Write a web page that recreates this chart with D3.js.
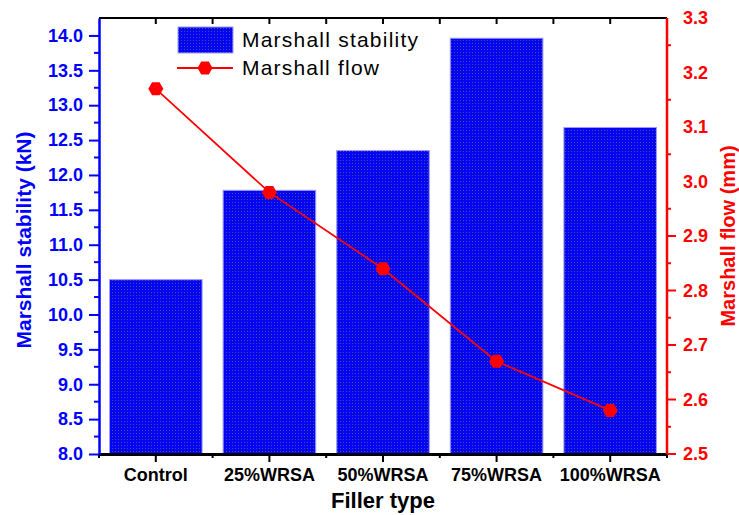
<!DOCTYPE html>
<html>
<head>
<meta charset="utf-8">
<script src="https://cdn.jsdelivr.net/npm/d3@7"></script>
<style>
  body { margin: 0; background: #fff; }
  text { font-family: Arial, "Liberation Sans", sans-serif; }
</style>
</head>
<body>
<div id="chart"></div>
<script>
const categories = ["Control", "25%WRSA", "50%WRSA", "75%WRSA", "100%WRSA"];
const stability = [10.50, 11.78, 12.35, 13.96, 12.68];
const flow = [3.17, 2.98, 2.84, 2.67, 2.58];
const leftTicks = [8.0, 8.5, 9.0, 9.5, 10.0, 10.5, 11.0, 11.5, 12.0, 12.5, 13.0, 13.5, 14.0];
const rightTicks = [2.5, 2.6, 2.7, 2.8, 2.9, 3.0, 3.1, 3.2, 3.3];
const rightMajorShown = [2.5, 2.6, 2.7, 2.8, 2.9];

const W = 739, H = 515;
const m = { left: 99, right: 667, top: 18, bottom: 454 };
const BLUE = "#0000ff", RED = "#ff0000";

const svg = d3.select("#chart").append("svg")
    .attr("width", W)
    .attr("height", H);

// dotted fill for the bars
const defs = svg.append("defs");
const pat = defs.append("pattern")
    .attr("id", "dots")
    .attr("width", 3).attr("height", 3)
    .attr("patternUnits", "userSpaceOnUse");
pat.append("rect").attr("width", 3).attr("height", 3).attr("fill", "#0505f5");
pat.append("rect").attr("x", 1).attr("y", 1).attr("width", 1).attr("height", 1).attr("fill", "#4a4a9a");

const x = d3.scaleBand()
    .domain(categories)
    .range([m.left, m.right])
    .paddingInner(0)
    .paddingOuter(0);

const yL = d3.scaleLinear().domain([8, 14.25]).range([m.bottom, m.top]);
const yR = d3.scaleLinear().domain([2.5, 3.3]).range([m.bottom, m.top]);

const barW = x.bandwidth() * 0.815;

// bars
svg.selectAll(".bar")
    .data(stability)
    .enter()
    .append("rect")
    .attr("class", "bar")
    .attr("x", (d, i) => x(categories[i]) + (x.bandwidth() - barW) / 2)
    .attr("y", d => yL(d))
    .attr("width", barW)
    .attr("height", d => yL(8) - yL(d))
    .attr("fill", "url(#dots)")
    .attr("stroke", "#9a9aff")
    .attr("stroke-width", 1);

// top frame
svg.append("line")
    .attr("x1", m.left).attr("x2", m.right)
    .attr("y1", m.top).attr("y2", m.top)
    .attr("stroke", "#000").attr("stroke-width", 2);

const boundaries = categories.map(c => x(c)).concat([m.right]);
const centers = categories.map(c => x(c) + x.bandwidth() / 2);

svg.selectAll(".ttick")
    .data(centers.concat(boundaries.slice(1, -1)))
    .enter().append("line")
    .attr("x1", d => d).attr("x2", d => d)
    .attr("y1", m.top).attr("y2", m.top + 6)
    .attr("stroke", "#000").attr("stroke-width", 2);

// bottom axis
const xAxis = svg.append("g")
    .attr("transform", `translate(0,${m.bottom})`)
    .call(d3.axisBottom(x).tickSize(8).tickPadding(6).tickSizeOuter(0));
xAxis.select(".domain").attr("stroke", "#000").attr("stroke-width", 3);
xAxis.selectAll(".tick line").attr("stroke-width", 2);
xAxis.selectAll(".tick text")
    .attr("font-size", 18).attr("font-weight", "bold").attr("fill", "#000")
    .attr("font-family", "Arial, 'Liberation Sans', sans-serif");

svg.selectAll(".bminor")
    .data(boundaries)
    .enter().append("line")
    .attr("x1", d => d).attr("x2", d => d)
    .attr("y1", m.bottom).attr("y2", m.bottom + 4)
    .attr("stroke", "#000").attr("stroke-width", 2);

// left axis
const leftAxis = svg.append("g")
    .attr("transform", `translate(${m.left},0)`)
    .call(d3.axisLeft(yL).tickValues(leftTicks).tickFormat(d3.format(".1f"))
        .tickSize(10).tickPadding(6).tickSizeOuter(0));
leftAxis.select(".domain").attr("stroke", BLUE).attr("stroke-width", 2.5);
leftAxis.selectAll(".tick line").attr("stroke", BLUE).attr("stroke-width", 2);
leftAxis.selectAll(".tick text")
    .attr("font-size", 18).attr("font-weight", "bold").attr("fill", BLUE)
    .attr("font-family", "Arial, 'Liberation Sans', sans-serif");

svg.selectAll(".lminor")
    .data(leftTicks.slice(0, -1).map(d => d + 0.25))
    .enter().append("line")
    .attr("x1", m.left - 5).attr("x2", m.left)
    .attr("y1", d => yL(d)).attr("y2", d => yL(d))
    .attr("stroke", BLUE).attr("stroke-width", 2);

// right axis
svg.append("line")
    .attr("x1", m.right).attr("x2", m.right)
    .attr("y1", m.top).attr("y2", m.bottom)
    .attr("stroke", RED).attr("stroke-width", 2.5);

svg.selectAll(".rmajor")
    .data(rightMajorShown)
    .enter().append("line")
    .attr("x1", m.right).attr("x2", m.right + 9)
    .attr("y1", d => yR(d)).attr("y2", d => yR(d))
    .attr("stroke", RED).attr("stroke-width", 2);

svg.selectAll(".rminor")
    .data(rightTicks.slice(0, -1).map(d => d + 0.05))
    .enter().append("line")
    .attr("x1", m.right).attr("x2", m.right + 4)
    .attr("y1", d => yR(d)).attr("y2", d => yR(d))
    .attr("stroke", RED).attr("stroke-width", 2);

svg.selectAll(".rlabel")
    .data(rightTicks)
    .enter().append("text")
    .attr("x", m.right + 16)
    .attr("y", d => yR(d))
    .attr("dy", "0.36em")
    .attr("font-size", 18).attr("font-weight", "bold").attr("fill", RED)
    .text(d => d3.format(".1f")(d));

// flow line
const line = d3.line()
    .x((d, i) => centers[i])
    .y(d => yR(d));

svg.append("path")
    .datum(flow)
    .attr("d", line)
    .attr("fill", "none")
    .attr("stroke", RED)
    .attr("stroke-width", 1.8);

function hexagon(r) {
    const pts = d3.range(6).map(k => [r * Math.cos(k * Math.PI / 3), r * Math.sin(k * Math.PI / 3)]);
    return d3.line()(pts) + "Z";
}

svg.selectAll(".pt")
    .data(flow)
    .enter().append("path")
    .attr("d", hexagon(7.5))
    .attr("transform", (d, i) => `translate(${centers[i]},${yR(d)})`)
    .attr("fill", RED);

// axis titles
svg.append("text")
    .attr("transform", `translate(31,${(m.top + m.bottom) / 2 + 4}) rotate(-90)`)
    .attr("text-anchor", "middle")
    .attr("font-size", 21).attr("font-weight", "bold").attr("fill", BLUE)
    .text("Marshall stability (kN)");

svg.append("text")
    .attr("transform", `translate(735,${(m.top + m.bottom) / 2}) rotate(-90)`)
    .attr("text-anchor", "middle")
    .attr("font-size", 20).attr("font-weight", "bold").attr("fill", RED)
    .text("Marshall flow (mm)");

svg.append("text")
    .attr("x", (m.left + m.right) / 2)
    .attr("y", 508)
    .attr("text-anchor", "middle")
    .attr("font-size", 22).attr("font-weight", "bold").attr("fill", "#000")
    .text("Filler type");

// legend
const lg = svg.append("g");
lg.append("rect")
    .attr("x", 178).attr("y", 27).attr("width", 55).attr("height", 26)
    .attr("fill", "url(#dots)")
    .attr("stroke", "#9a9aff").attr("stroke-width", 1);
lg.append("text")
    .attr("x", 242).attr("y", 47)
    .attr("font-size", 21).attr("fill", "#000")
    .attr("textLength", 176).attr("lengthAdjust", "spacing")
    .text("Marshall stability");
lg.append("line")
    .attr("x1", 177).attr("x2", 233).attr("y1", 68).attr("y2", 68)
    .attr("stroke", RED).attr("stroke-width", 1.8);
lg.append("path")
    .attr("d", hexagon(7.5))
    .attr("transform", "translate(205,68)")
    .attr("fill", RED);
lg.append("text")
    .attr("x", 242).attr("y", 75)
    .attr("font-size", 21).attr("fill", "#000")
    .attr("textLength", 137).attr("lengthAdjust", "spacing")
    .text("Marshall flow");
</script>
</body>
</html>
